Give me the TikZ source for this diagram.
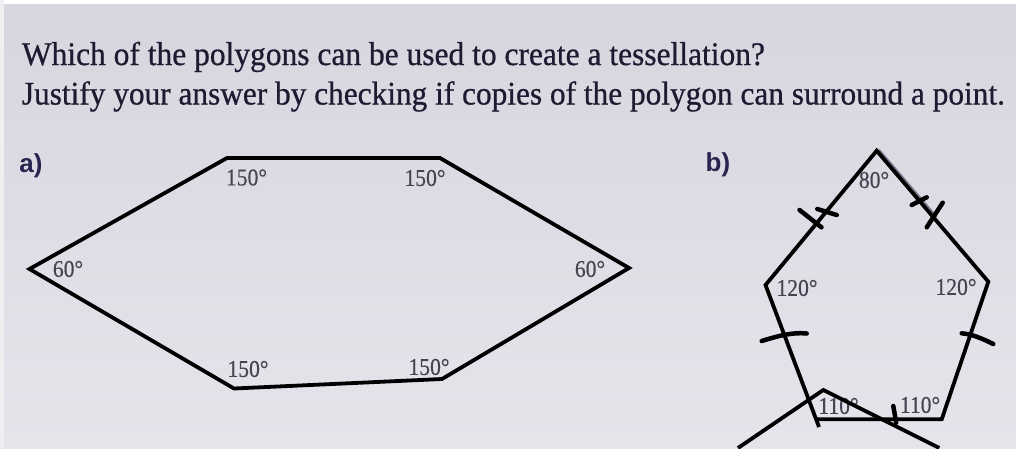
\documentclass[tikz,border=0pt]{standalone}
\usepackage{fontspec}
\setmainfont{Liberation Serif}
\newfontfamily\qfont{Liberation Serif}[FakeBold=0.7]
\newfontfamily\angfont{Liberation Serif}[FakeBold=0.4]
\newfontfamily\partfont{Liberation Sans}
\usetikzlibrary{calc}
\definecolor{bgtop}{RGB}{214,214,223}
\definecolor{bgbot}{RGB}{230,228,235}
\definecolor{inkq}{RGB}{30,26,50}
\definecolor{inkpart}{RGB}{40,36,80}
\definecolor{inkang}{RGB}{70,68,82}
\definecolor{printline}{RGB}{120,118,140}
\tikzset{
  qtext/.style={anchor=base west,inner sep=0pt,text=inkq,font=\qfont\fontsize{33}{33}\selectfont},
  parttext/.style={inner sep=0pt,text=inkpart,font=\partfont\bfseries\fontsize{26}{26}\selectfont},
  angtext/.style={inner sep=0pt,text=inkang,font=\angfont\fontsize{24}{24}\selectfont,xscale=0.9},
  poly/.style={line width=3.8pt,black,line join=miter},
  tickmark/.style={line width=4.5pt,black,line cap=round}
}
\begin{document}
\begin{tikzpicture}[x=1pt,y=-1pt]
\useasboundingbox (0,0) rectangle (1016,448);
\shade[top color=bgtop,bottom color=bgbot] (0,0) rectangle (1016,448);
\fill[white] (0,0) rectangle (1016,4);
\fill[white!60!bgtop] (0,0) rectangle (4,448);

% question text
\node[qtext] (q1) at (21.7,65) {\resizebox{743pt}{\height}{Which of the polygons can be used to create a tessellation?}};
\node[qtext] (q2) at (21.7,104.5) {\resizebox{983pt}{\height}{Justify your answer by checking if copies of the polygon can surround a point.}};

% part labels
\node[parttext] (pa) at (31,166) {a)};
\node[parttext] (pb) at (718,165) {b)};

% hexagon (a)
\coordinate (hTL) at (227,158);
\coordinate (hTR) at (440,158);
\coordinate (hR)  at (629,268);
\coordinate (hBR) at (442,379);
\coordinate (hBL) at (234,388.5);
\coordinate (hL)  at (29.5,269);
\draw[poly] (hTL) -- (hTR) -- (hR) -- (hBR) -- (hBL) -- (hL) -- cycle;

\node[angtext] (a1) at (246.5,177.5) {150°};
\node[angtext] (a2) at (425,178) {150°};
\node[angtext] (a3) at (68,269) {60°};
\node[angtext] (a4) at (590,269) {60°};
\node[angtext] (a5) at (248,369) {150°};
\node[angtext] (a6) at (429,367) {150°};

% pentagon (b)
\coordinate (pT)  at (876.7,150.7);
\coordinate (pR)  at (988.3,281.7);
\coordinate (pBR) at (941.7,419.3);
\coordinate (pBL) at (816,419.3);
\coordinate (pL)  at (765.5,285);
\coordinate (pLx) at (819,427);
\draw[printline,line width=1.6pt] ($(pT)+(2.5,-1)$) -- ($(pT)+(60,66)$);
\draw[poly] (pLx) -- (pL) -- (pT) -- (pR) -- (pBR) -- (pBL);

\node[angtext] (b1) at (874,180) {80°};
\node[angtext] (b2) at (797,288) {120°};
\node[angtext] (b3) at (956,287) {120°};
\node[angtext] (b4) at (838.5,406) {110°};
\node[angtext] (b5) at (920,405) {110°};

% tick marks
\draw[tickmark] (799.5,210) -- (821.5,227.3);
\draw[tickmark] (817.3,209) -- (836.7,215);
\draw[tickmark] (911.7,205) -- (926.7,197.3);
\draw[tickmark] (926.7,227.3) -- (942.7,202.7);
\draw[tickmark] (761.7,341) .. controls (778,336) and (792,332) .. (806.7,333.5);
\draw[tickmark] (961.7,333.3) .. controls (972,334) and (983,339) .. (993.3,344);
\draw[tickmark] (893.3,406) -- (896.2,422.7);

% copy of the pentagon below
\coordinate (cA) at (823.3,390);
\coordinate (cL) at (738,448);
\coordinate (cR) at (939.3,448);
\draw[poly] (cL) -- (cA) -- (cR);
\end{tikzpicture}
\end{document}
